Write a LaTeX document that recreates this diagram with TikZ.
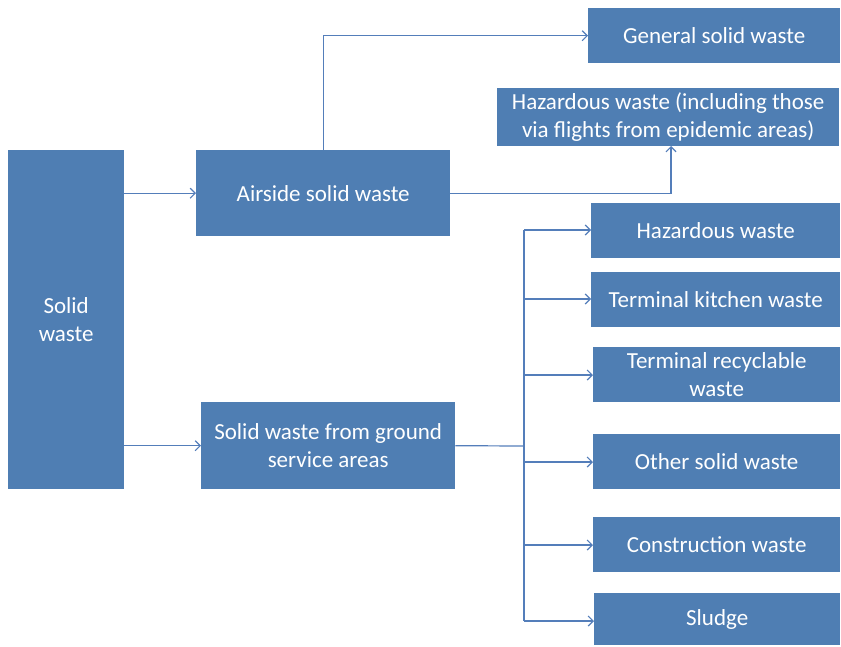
\documentclass[tikz,border=0pt]{standalone}
\usepackage{fontspec}
\setmainfont{Carlito}
\usetikzlibrary{arrows.meta}
\definecolor{boxblue}{RGB}{79,126,179}
\definecolor{linkblue}{RGB}{84,126,186}
\begin{document}
\begin{tikzpicture}[x=1pt,y=-1pt,
  wbox/.style={fill=boxblue,draw=none,text=white,font=\fontsize{23}{28}\selectfont,
    align=center,inner sep=0pt,anchor=north west},
  link/.style={draw=linkblue,line width=1.2pt,-{Straight Barb[length=5pt,width=10pt]}},
  plain/.style={draw=linkblue,line width=1.2pt}]
\useasboundingbox (0,0) rectangle (841,646);
% boxes: (left,top) with width and height
\node[wbox,minimum width=116,minimum height=339] (solid) at (8,150) {Solid\\waste};
\node[wbox,minimum width=254,minimum height=86] (air) at (196,150) {Airside solid waste};
\node[wbox,minimum width=254,minimum height=87] (ground) at (201,402) {Solid waste from ground\\service areas};
\node[wbox,minimum width=252,minimum height=55] (general) at (588,8) {General solid waste};
\node[wbox,minimum width=342,minimum height=58] (hazfl) at (497,88) {Hazardous waste (including those\\via flights from epidemic areas)};
\node[wbox,minimum width=249,minimum height=55] (haz) at (591,203) {Hazardous waste};
\node[wbox,minimum width=249,minimum height=55] (kitchen) at (591,272) {Terminal kitchen waste};
\node[wbox,minimum width=247,minimum height=55] (recyc) at (593,347) {Terminal recyclable\\waste};
\node[wbox,minimum width=247,minimum height=55] (other) at (593,434) {Other solid waste};
\node[wbox,minimum width=247,minimum height=55] (constr) at (593,517) {Construction waste};
\node[wbox,minimum width=246,minimum height=52] (sludge) at (594,593) {Sludge};
% first level
\draw[link] (solid.east |- air.west) -- (air.west);
\draw[link] (solid.east |- ground.west) -- (ground.west);
% airside branches
\draw[link] (air.north) |- (general.west);
\coordinate (hz) at (671,146);
\draw[link] (air.east) -| (hz);
% ground service branches
\coordinate (trunk) at (524,446);
\draw[plain] (ground.east) -- (trunk);
\draw[plain] (524,230) -- (524,621);
\foreach \t/\yy in {haz/230,kitchen/299,recyc/375,other/462,constr/545,sludge/621}
  \draw[link] (524,\yy) -- (\t.west |- 0,\yy);
\end{tikzpicture}
\end{document}
